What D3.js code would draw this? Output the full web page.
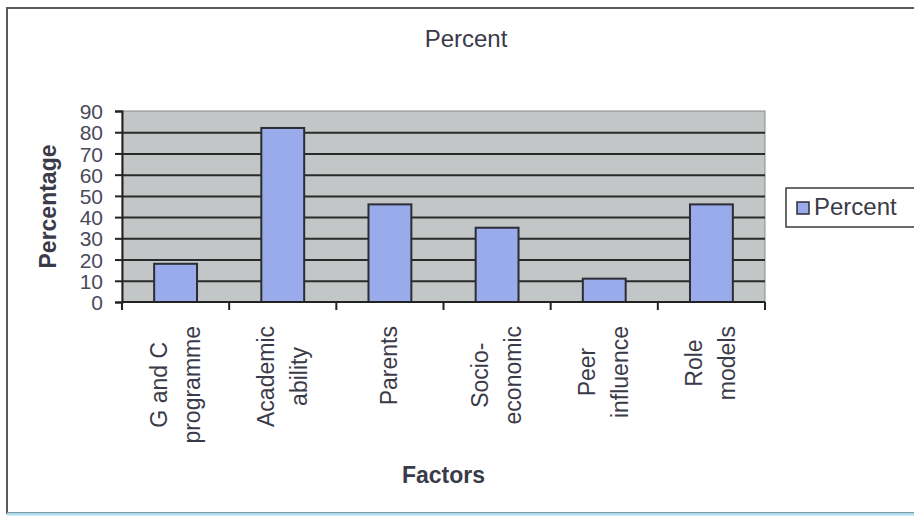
<!DOCTYPE html>
<html>
<head>
    <meta charset="UTF-8">
    <title>Percent</title>
    <script src="https://d3js.org/d3.v7.min.js"></script>
    <style>
        body { margin: 0; background: #fff; }
        text { font-family: "Liberation Sans", Arial, sans-serif; fill: #3a3a48; }
    </style>
</head>
<body>
    <div id="chart"></div>

    <script type="text/javascript">

        // chart data
        let categories = ["G and C programme", "Academic ability", "Parents", "Socio-economic", "Peer influence", "Role models"];
        let categoryLines = [["G and C", "programme"], ["Academic", "ability"], ["Parents"], ["Socio-", "economic"], ["Peer", "influence"], ["Role", "models"]];
        let percentValues = [18, 82, 46, 35, 11, 46];
        let yTicks = [0, 10, 20, 30, 40, 50, 60, 70, 80, 90];
        let seriesName = "Percent";

        let W = 914, H = 517;
        let margin = { top: 111, right: 149, bottom: 215, left: 122 },
            width = W - margin.left - margin.right,
            height = H - margin.top - margin.bottom;

        let root = d3.select("#chart")
            .append("svg")
            .attr("width", W)
            .attr("height", H);

        // outer chart border
        root.append("rect")
            .attr("x", 7).attr("y", 8)
            .attr("width", 930).attr("height", 505)
            .attr("fill", "none")
            .attr("stroke", "#5a5a5a")
            .attr("stroke-width", 2);
        root.append("line")
            .attr("x1", 7).attr("x2", W).attr("y1", 514).attr("y2", 514)
            .attr("stroke", "#a9dcec").attr("stroke-width", 3);

        // title
        root.append("text")
            .attr("x", 466).attr("y", 47)
            .attr("text-anchor", "middle")
            .style("font-size", "24px")
            .text(seriesName);

        let svg = root.append("g")
            .attr("transform", "translate(" + margin.left + "," + margin.top + ")");

        let x = d3.scaleBand()
            .domain(categories)
            .range([0, width])
            .paddingInner(0.6)
            .paddingOuter(0.3);

        let y = d3.scaleLinear()
            .domain([0, 90])
            .range([height, 0]);

        // plot area
        svg.append("rect")
            .attr("width", width).attr("height", height)
            .attr("fill", "#c3c6c6")
            .attr("stroke", "#8a8a8a")
            .attr("stroke-width", 1);

        // gridlines
        svg.append("g")
            .attr("class", "grid")
            .call(d3.axisLeft(y).tickValues(yTicks.filter(d => d > 0 && d < 90)).tickSize(-width).tickFormat(""))
            .call(g => g.select(".domain").remove())
            .call(g => g.selectAll("line").attr("stroke", "#2a2a2a").attr("stroke-width", 2));

        // bars
        svg.selectAll(".bar")
            .data(percentValues)
            .enter()
            .append("rect")
            .attr("class", "bar")
            .attr("x", (d, i) => x(categories[i]))
            .attr("y", d => y(d))
            .attr("width", x.bandwidth())
            .attr("height", d => y(0) - y(d))
            .attr("fill", "#9aabec")
            .attr("stroke", "#2c2c34")
            .attr("stroke-width", 2);

        // y axis
        svg.append("g")
            .call(d3.axisLeft(y).tickValues(yTicks).tickSize(7).tickPadding(12))
            .call(g => g.select(".domain").attr("stroke", "#222").attr("stroke-width", 2))
            .call(g => g.selectAll(".tick line").attr("stroke", "#222").attr("stroke-width", 2))
            .call(g => g.selectAll(".tick text")
                .style("font-size", "21px")
                .style("fill", "#4a4a5a")
                .attr("dy", "0.36em"));

        // x axis: ticks between categories
        let step = x.step();
        let boundaries = d3.range(categories.length + 1).map(i => i * step);
        let xAxis = svg.append("g").attr("transform", "translate(0," + height + ")");
        xAxis.append("line")
            .attr("x1", 0).attr("x2", width)
            .attr("stroke", "#222").attr("stroke-width", 2);
        xAxis.selectAll(".xtick")
            .data(boundaries)
            .enter()
            .append("line")
            .attr("x1", d => d).attr("x2", d => d)
            .attr("y1", 0).attr("y2", 8)
            .attr("stroke", "#222").attr("stroke-width", 2);

        // rotated category labels, top of each block just under the axis
        let lineGap = 33, labelTop = 326 - margin.top - height;
        categoryLines.forEach(function (lines, i) {
            let cx = x(categories[i]) + x.bandwidth() / 2;
            let g = xAxis.append("g");
            let texts = lines.map(function (t, j) {
                return g.append("text")
                    .attr("text-anchor", "middle")
                    .attr("x", 0)
                    .attr("y", (j - (lines.length - 1) / 2) * lineGap + 7.5)
                    .style("font-size", "23px")
                    .text(t);
            });
            let longest = d3.max(texts, t => t.node().getComputedTextLength());
            let cy = labelTop + longest / 2;
            g.attr("transform", "translate(" + cx + "," + cy + ") rotate(-90)");
        });

        // axis titles
        root.append("text")
            .attr("x", margin.left + width / 2)
            .attr("y", 483)
            .attr("text-anchor", "middle")
            .style("font-size", "23px")
            .style("font-weight", "bold")
            .text("Factors");

        root.append("text")
            .attr("transform", "translate(56," + (margin.top + height / 2) + ") rotate(-90)")
            .attr("text-anchor", "middle")
            .style("font-size", "23px")
            .style("font-weight", "bold")
            .text("Percentage");

        // legend
        let legend = root.append("g").attr("transform", "translate(786,188)");
        legend.append("rect")
            .attr("width", 140).attr("height", 39)
            .attr("fill", "#fff")
            .attr("stroke", "#3a3a3a")
            .attr("stroke-width", 1.5);
        legend.append("rect")
            .attr("x", 11).attr("y", 14)
            .attr("width", 12).attr("height", 12)
            .attr("fill", "#9aabec")
            .attr("stroke", "#2c2c34")
            .attr("stroke-width", 1.5);
        legend.append("text")
            .attr("x", 28).attr("y", 27)
            .style("font-size", "24px")
            .text(seriesName);

    </script>
</body>
</html>
